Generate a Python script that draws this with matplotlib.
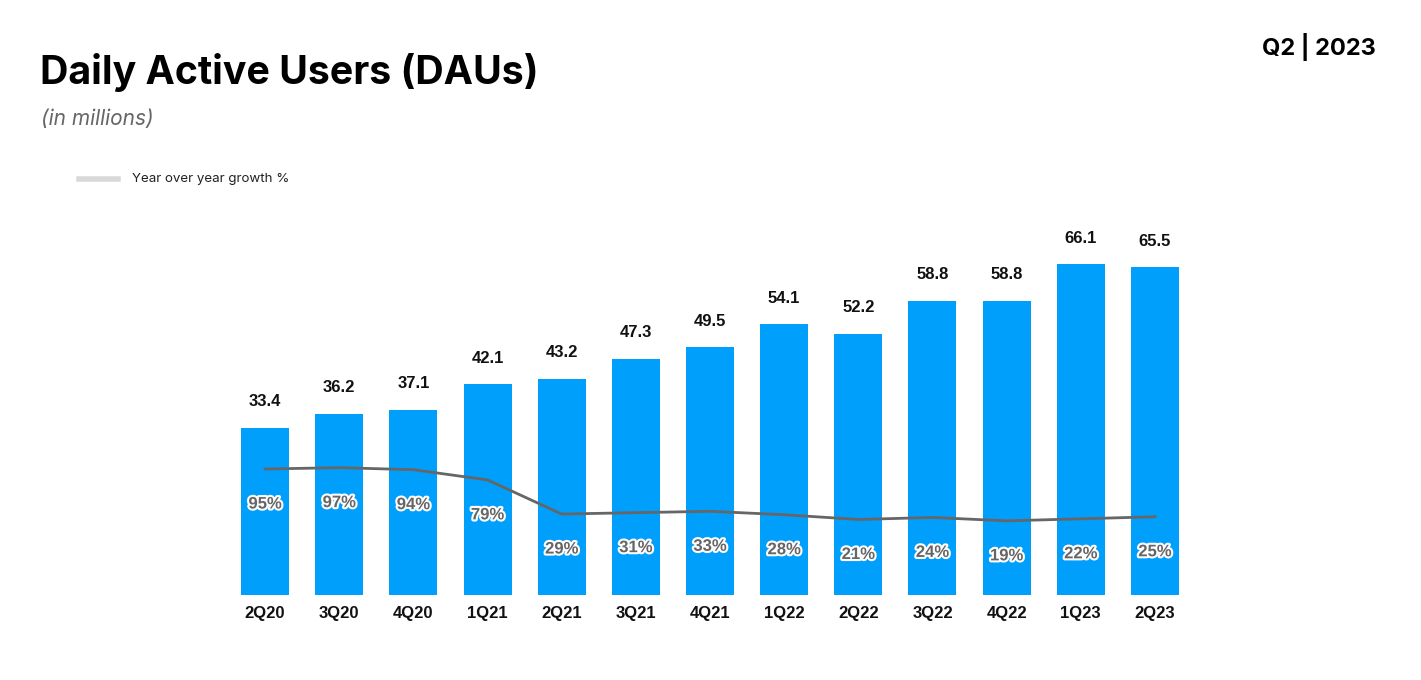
import matplotlib.pyplot as plt
import matplotlib.patheffects as pe
import numpy as np

plt.rcParams['font.family'] = ['Inter', 'DejaVu Sans']

quarters = ['2Q20', '3Q20', '4Q20', '1Q21', '2Q21', '3Q21', '4Q21',
            '1Q22', '2Q22', '3Q22', '4Q22', '1Q23', '2Q23']
daus = [33.4, 36.2, 37.1, 42.1, 43.2, 47.3, 49.5, 54.1, 52.2, 58.8, 58.8, 66.1, 65.5]
yoy = [95, 97, 94, 79, 29, 31, 33, 28, 21, 24, 19, 22, 25]

bar_color = '#009FFC'
line_color = '#666666'
chart_font = ['Liberation Sans', 'DejaVu Sans']

fig = plt.figure(figsize=(14.21, 6.8), dpi=100)
ax = fig.add_axes([228 / 1421, 85 / 680, 964 / 1421, 395 / 680])
x = np.arange(len(quarters))

bars = ax.bar(x, daus, width=0.647, color=bar_color, zorder=2)
for xi, v in zip(x, daus):
    ax.annotate(f'{v:.1f}', (xi, v), xytext=(0, 26), textcoords='offset pixels',
                ha='center', va='center', fontsize=12, fontweight='bold', color='#111111',
                family=chart_font)

ax.set_xlim(-0.5, len(quarters) - 0.5)
ax.set_ylim(0, 79)
ax.set_xticks(x)
ax.set_xticklabels(quarters, fontsize=12, fontweight='bold', color='#111111', family=chart_font)
ax.tick_params(axis='x', length=0, pad=8)
ax.set_yticks([])
for s in ax.spines.values():
    s.set_visible(False)

ax2 = ax.twinx()
ax2.plot(x, yoy, color=line_color, lw=2, zorder=3)
ax2.set_ylim(-89.7, 489.4)
ax2.set_yticks([])
for s in ax2.spines.values():
    s.set_visible(False)
for xi, g in zip(x, yoy):
    ax2.annotate(f'{g}%', (xi, g), xytext=(0, -35), textcoords='offset pixels',
                 ha='center', va='center', fontsize=12, fontweight='bold', color='#666666',
                 family=chart_font,
                 path_effects=[pe.withStroke(linewidth=3, foreground='white')])

fig.text(40 / 1421, 1 - 73 / 680, 'Daily Active Users (DAUs)', fontsize=28.3,
         fontweight='bold', color='#000000', va='center', ha='left')
fig.text(41 / 1421, 1 - 119 / 680, '(in millions)', fontsize=15, style='italic',
         color='#666666', va='center', ha='left')
fig.text(1376 / 1421, 1 - 47 / 680, 'Q2 | 2023', fontsize=17, fontweight='bold',
         color='#000000', va='center', ha='right')

fig.add_artist(plt.Line2D([79 / 1421, 118 / 1421], [1 - 179 / 680, 1 - 179 / 680],
                          color='#d9d9d9', lw=4, transform=fig.transFigure))
fig.text(132 / 1421, 1 - 179 / 680, 'Year over year growth %', fontsize=9.6,
         color='#222222', va='center', ha='left')

fig.savefig('out.png', dpi=100, facecolor='white')
